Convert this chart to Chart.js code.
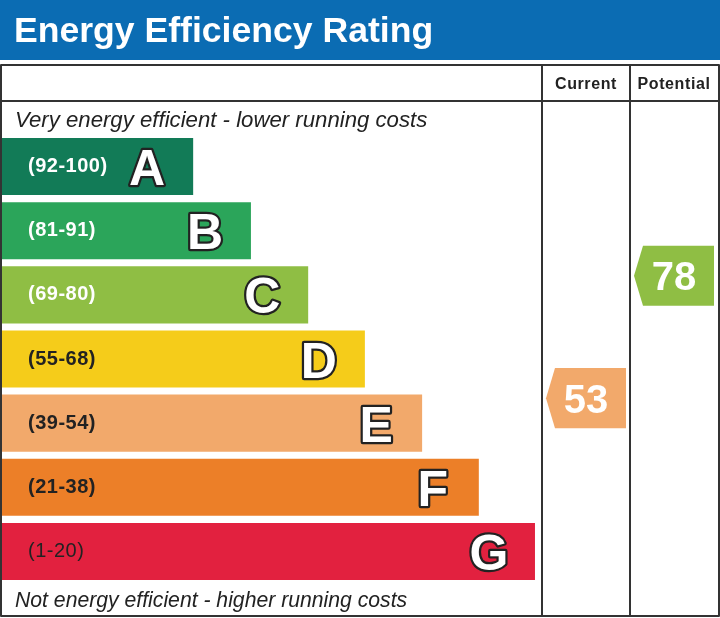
<!DOCTYPE html>
<html>
<head>
<meta charset="utf-8">
<title>Energy Efficiency Rating</title>
<script src="https://cdn.jsdelivr.net/npm/chart.js@4.4.1/dist/chart.umd.min.js"></script>
<style>
  html, body { margin: 0; padding: 0; background: #ffffff; }
  #wrap { width: 720px; height: 618px; }
</style>
</head>
<body>
<div id="wrap"><canvas id="epcChart" width="720" height="618"></canvas></div>
<script>
  // bands, top (most efficient) to bottom
  const bandLetters = ['A', 'B', 'C', 'D', 'E', 'F', 'G'];
  const bandLow = [92, 81, 69, 55, 39, 21, 1];
  const bandHigh = [100, 91, 80, 68, 54, 38, 20];
  // bar length, as a share of the rating panel width
  const barLengths = [35.4, 46.1, 56.7, 67.2, 77.8, 88.3, 98.7];

  const columnTitles = ['Current', 'Potential'];
  const ratingScores = [53, 78];

  const titleText = 'Energy Efficiency Rating';
  const topNote = 'Very energy efficient - lower running costs';
  const bottomNote = 'Not energy efficient - higher running costs';

  const bandColors = ['#127b57', '#2ba55a', '#8fbe44', '#f5cc1a', '#f2a96b', '#ec7f28', '#e2213f'];
  const rangeTextColors = ['#ffffff', '#ffffff', '#ffffff', '#222222', '#222222', '#222222', '#222222'];
  const rangeFontWeights = ['bold', 'bold', 'bold', 'bold', 'bold', 'bold', 'normal'];

  const FONT = '"Liberation Sans", Arial, Helvetica, sans-serif';
  const LINE = '#333333';

  function bandIndexFor(score) {
    return bandLow.findIndex((lo, i) => score >= lo && score <= bandHigh[i]);
  }

  function drawArrow(ctx, left, right, cy, h, color, label) {
    const tip = 9;
    ctx.beginPath();
    ctx.moveTo(left, cy);
    ctx.lineTo(left + tip, cy - h / 2);
    ctx.lineTo(right, cy - h / 2);
    ctx.lineTo(right, cy + h / 2);
    ctx.lineTo(left + tip, cy + h / 2);
    ctx.closePath();
    ctx.fillStyle = color;
    ctx.fill();

    ctx.fillStyle = '#ffffff';
    ctx.font = `bold 40px ${FONT}`;
    ctx.textAlign = 'center';
    ctx.textBaseline = 'alphabetic';
    ctx.fillText(label, (left + right) / 2, cy + 14.5);
  }

  const epcFrame = {
    id: 'epcFrame',
    beforeDraw(chart) {
      const { ctx, width } = chart;
      ctx.save();
      ctx.fillStyle = '#ffffff';
      ctx.fillRect(0, 0, width, chart.height);

      // blue title band
      ctx.fillStyle = '#0b6cb3';
      ctx.fillRect(0, 0, width, 60);
      ctx.fillStyle = '#ffffff';
      ctx.font = `bold 35.6px ${FONT}`;
      ctx.textAlign = 'left';
      ctx.textBaseline = 'alphabetic';
      ctx.fillText(titleText, 14, 42);
      ctx.restore();
    },
    afterDatasetsDraw(chart) {
      const { ctx, chartArea, width, height } = chart;
      const meta = chart.getDatasetMeta(0);
      ctx.save();

      // range labels and band letters on the bars
      meta.data.forEach((bar, i) => {
        ctx.textBaseline = 'middle';
        ctx.textAlign = 'left';
        ctx.fillStyle = rangeTextColors[i];
        ctx.font = `${rangeFontWeights[i]} 20px ${FONT}`;
        ctx.letterSpacing = '0.5px';
        ctx.fillText(`(${bandLow[i]}-${bandHigh[i]})`, chartArea.left + 26, bar.y);
        ctx.letterSpacing = '0px';

        ctx.textAlign = 'center';
        ctx.textBaseline = 'alphabetic';
        ctx.font = `bold 50px ${FONT}`;
        ctx.lineJoin = 'round';
        ctx.lineWidth = 4.5;
        ctx.strokeStyle = '#222222';
        const lx = bar.x - 46;
        const ly = bar.y + 18.5;
        ctx.strokeText(bandLetters[i], lx, ly);
        ctx.fillStyle = '#ffffff';
        ctx.fillText(bandLetters[i], lx, ly);
      });

      // table frame
      const top = 65;
      const right = width - 2;
      const colW = (right - chartArea.right) / 2;
      ctx.strokeStyle = LINE;
      ctx.lineWidth = 2;
      ctx.strokeRect(1, top, width - 2, height - top - 2);
      ctx.beginPath();
      ctx.moveTo(0, 101);
      ctx.lineTo(width, 101);
      ctx.moveTo(chartArea.right, top);
      ctx.lineTo(chartArea.right, height - 1);
      ctx.moveTo(chartArea.right + colW, top);
      ctx.lineTo(chartArea.right + colW, height - 1);
      ctx.stroke();

      // column titles
      ctx.fillStyle = '#222222';
      ctx.font = `bold 16px ${FONT}`;
      ctx.textAlign = 'center';
      ctx.textBaseline = 'alphabetic';
      ctx.letterSpacing = '0.6px';
      columnTitles.forEach((t, c) => {
        ctx.fillText(t, chartArea.right + colW * (c + 0.5), 89);
      });
      ctx.letterSpacing = '0px';

      // notes
      ctx.textAlign = 'left';
      ctx.font = `italic 22.2px ${FONT}`;
      ctx.fillText(topNote, 15, 127);
      ctx.font = `italic 21.2px ${FONT}`;
      ctx.fillText(bottomNote, 15, 607);

      // rating arrows, placed within their band by score
      ratingScores.forEach((score, c) => {
        const i = bandIndexFor(score);
        const bar = meta.data[i];
        const frac = (bandHigh[i] - score) / (bandHigh[i] - bandLow[i] + 1);
        const cy = bar.y - bar.height / 2 + frac * bar.height;
        const colLeft = chartArea.right + colW * c;
        drawArrow(ctx, colLeft + 4, colLeft + colW - 4, cy, bar.height + 3, bandColors[i], String(score));
      });

      ctx.restore();
    }
  };

  new Chart(document.getElementById('epcChart'), {
    type: 'bar',
    data: {
      labels: bandLetters,
      datasets: [{
        data: barLengths,
        backgroundColor: bandColors,
        borderWidth: 0,
        barPercentage: 0.89,
        categoryPercentage: 1
      }]
    },
    options: {
      indexAxis: 'y',
      responsive: false,
      animation: false,
      layout: {
        padding: { top: 134.5, bottom: 34.5, left: 2, right: 178 }
      },
      scales: {
        x: { min: 0, max: 100, display: false },
        y: { display: false }
      },
      plugins: {
        legend: { display: false },
        tooltip: { enabled: false }
      }
    },
    plugins: [epcFrame]
  });
</script>
</body>
</html>
